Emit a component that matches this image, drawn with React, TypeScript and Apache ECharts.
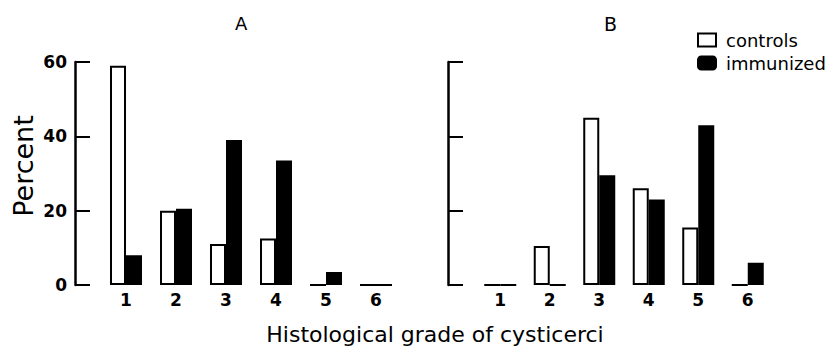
import React, { useEffect, useRef } from "react";
import * as echarts from "echarts";

const categoriesA = ["1", "2", "3", "4", "5", "6"];
const categoriesB = ["1", "2", "3", "4", "5", "6"];
const controlsA = [59, 20, 11, 12.5, 0, 0];
const immunizedA = [8, 20.5, 39, 33.5, 3.5, 0];
const controlsB = [0, 10.5, 45, 26, 15.5, 0];
const immunizedB = [0, 0, 29.5, 23, 43, 6];
const yTicks = [0, 20, 40, 60];
const panelTitles = ["A", "B"];
const seriesNames = ["controls", "immunized"];
const xTitle = "Histological grade of cysticerci";
const yTitle = "Percent";

const FONT = "DejaVu Sans";

export default function App() {
  const ref = useRef<HTMLDivElement>(null);
  useEffect(() => {
    if (!ref.current) return;
    const chart = echarts.init(ref.current, null, { renderer: "svg" });
    const yMax = yTicks[yTicks.length - 1];
    const yInterval = yTicks[1] - yTicks[0];
    const ctrlStyle = { color: "#fff", borderColor: "#000", borderWidth: 2 };
    const immStyle = { color: "#000", borderColor: "#000", borderWidth: 2 };
    const xAxisCommon = {
      type: "category" as const,
      axisLine: { show: false },
      axisTick: { show: false },
      axisLabel: {
        color: "#000",
        fontFamily: FONT,
        fontSize: 17,
        fontWeight: "bold" as const,
        margin: 6,
      },
    };
    const yAxisCommon = {
      type: "value" as const,
      min: 0,
      max: yMax,
      interval: yInterval,
      splitLine: { show: false },
      axisLine: { show: true, lineStyle: { color: "#000", width: 2.5 } },
      axisTick: { show: true, inside: true, length: 15, lineStyle: { color: "#000", width: 2 } },
    };
    chart.setOption({
      animation: false,
      backgroundColor: "#fff",
      grid: [
        { left: 101, width: 300, top: 62, height: 223 },
        { left: 475.5, width: 297, top: 62, height: 223 },
      ],
      xAxis: [
        { ...xAxisCommon, gridIndex: 0, data: categoriesA },
        { ...xAxisCommon, gridIndex: 1, data: categoriesB },
      ],
      yAxis: [
        {
          ...yAxisCommon,
          gridIndex: 0,
          offset: 26,
          axisLabel: {
            color: "#000",
            fontFamily: FONT,
            fontSize: 17,
            fontWeight: "bold",
            margin: 8,
          },
        },
        {
          ...yAxisCommon,
          gridIndex: 1,
          offset: 27.5,
          axisLabel: { show: false },
        },
      ],
      legend: {
        orient: "vertical",
        left: 697,
        top: 31,
        padding: 0,
        itemWidth: 18,
        itemHeight: 13,
        itemGap: 5,
        data: [
          { name: seriesNames[0], icon: "rect" },
          { name: seriesNames[1], icon: "roundRect" },
        ],
        textStyle: {
          color: "#000",
          fontFamily: FONT,
          fontSize: 18,
          lineHeight: 18,
          padding: [0, 0, 0, 5],
        },
      },
      graphic: [
        {
          type: "text",
          left: 235,
          top: 14,
          style: { text: panelTitles[0], fill: "#000", font: `18px "${FONT}"` },
        },
        {
          type: "text",
          left: 604,
          top: 14,
          style: { text: panelTitles[1], fill: "#000", font: `19px "${FONT}"` },
        },
        {
          type: "text",
          x: 435,
          y: 334,
          style: {
            text: xTitle,
            fill: "#000",
            font: `22px "${FONT}"`,
            align: "center",
            verticalAlign: "middle",
          },
        },
        {
          type: "text",
          x: 23,
          y: 166,
          rotation: Math.PI / 2,
          style: {
            text: yTitle,
            fill: "#000",
            font: `27px "${FONT}"`,
            align: "center",
            verticalAlign: "middle",
          },
        },
      ],
      series: [
        {
          name: seriesNames[0],
          type: "bar",
          xAxisIndex: 0,
          yAxisIndex: 0,
          data: controlsA,
          barWidth: 16,
          barGap: "0%",
          itemStyle: ctrlStyle,
        },
        {
          name: seriesNames[1],
          type: "bar",
          xAxisIndex: 0,
          yAxisIndex: 0,
          data: immunizedA,
          barWidth: 16,
          barGap: "0%",
          itemStyle: immStyle,
        },
        {
          name: seriesNames[0],
          type: "bar",
          xAxisIndex: 1,
          yAxisIndex: 1,
          data: controlsB,
          barWidth: 16,
          barGap: "0%",
          itemStyle: ctrlStyle,
        },
        {
          name: seriesNames[1],
          type: "bar",
          xAxisIndex: 1,
          yAxisIndex: 1,
          data: immunizedB,
          barWidth: 16,
          barGap: "0%",
          itemStyle: immStyle,
        },
      ],
    });
    return () => chart.dispose();
  }, []);
  return (
    <div
      ref={ref}
      style={{ position: "fixed", left: 0, top: 0, width: 835, height: 347 }}
    />
  );
}
